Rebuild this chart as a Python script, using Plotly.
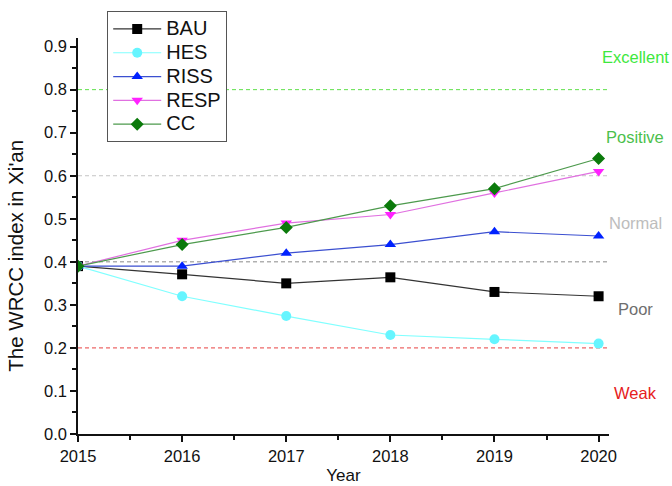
import plotly.graph_objects as go

years = [2015, 2016, 2017, 2018, 2019, 2020]
bau = [0.39, 0.371, 0.35, 0.364, 0.33, 0.32]
hes = [0.39, 0.32, 0.274, 0.23, 0.22, 0.21]
riss = [0.39, 0.39, 0.42, 0.44, 0.47, 0.46]
resp = [0.39, 0.45, 0.49, 0.51, 0.56, 0.61]
cc = [0.39, 0.44, 0.48, 0.53, 0.57, 0.64]

level_values = [0.8, 0.6, 0.4, 0.2]
level_colors = ["#5fe04a", "#c4c4c4", "#8a8a8a", "#e84040"]

grade_names = ["Excellent", "Positive", "Normal", "Poor", "Weak"]
grade_pos = [0.875, 0.69, 0.49, 0.29, 0.095]
grade_colors = ["#3ee83e", "#4cbf4c", "#bdbdbd", "#6e6e6e", "#e62020"]

series = [
    ("BAU", bau, "#333333", "#000000", "square"),
    ("HES", hes, "#80ffff", "#66f5ff", "circle"),
    ("RISS", riss, "#3b4fd0", "#0022ff", "triangle-up"),
    ("RESP", resp, "#e070e0", "#ff22ff", "triangle-down"),
    ("CC", cc, "#4d9a4d", "#0b7a0b", "diamond"),
]

fig = go.Figure()
for name, vals, lc, mc, sym in series:
    fig.add_trace(go.Scatter(
        x=years, y=vals, name="<span style='font-size:20px'>%s</span>" % name,
        mode="lines+markers",
        line=dict(color=lc, width=1.2),
        marker=dict(symbol=sym, size=10, color=mc, line=dict(width=0)),
    ))

shapes = []
for v, c in zip(level_values, level_colors):
    shapes.append(dict(type="line", xref="paper", x0=0, x1=1, yref="y", y0=v, y1=v,
                       line=dict(color=c, width=1, dash="4px,3px"), layer="below"))

annotations = []
for name, p, c in zip(grade_names, grade_pos, grade_colors):
    annotations.append(dict(text=name, xref="paper", x=1.049, yref="y", y=p,
                            xanchor="center", yanchor="middle", showarrow=False,
                            font=dict(size=16.5, color=c)))

# y-axis title, set slightly below the axis centre
annotations.append(dict(text="The WRCC index in Xi'an", xref="paper", yref="paper",
                        x=-0.117, y=0.45, xanchor="center", yanchor="middle",
                        textangle=-90, showarrow=False, font=dict(size=20.5, color="#111111")))

fig.update_layout(
    width=672, height=486,
    margin=dict(l=78, r=63, t=38, b=52, autoexpand=False),
    plot_bgcolor="white", paper_bgcolor="white",
    font=dict(family="Liberation Sans, Arial, sans-serif", color="#111111"),
    shapes=shapes, annotations=annotations,
    showlegend=True,
    legend=dict(x=0.055, y=1.068, xanchor="left", yanchor="top",
                bordercolor="#555555", borderwidth=1, bgcolor="white",
                font=dict(size=16, color="#111111"), tracegroupgap=0,
                itemwidth=48),
    xaxis=dict(range=[2015, 2020.1], tickvals=years, ticktext=[str(y) for y in years],
               showline=True, linecolor="#111111", linewidth=1.5,
               ticks="outside", ticklen=6, tickwidth=1.5, tickcolor="#111111",
               showgrid=False, zeroline=False, automargin=False,
               minor=dict(tickvals=[2015.5, 2016.5, 2017.5, 2018.5, 2019.5],
                          ticklen=4, tickwidth=1.5, tickcolor="#111111", ticks="outside"),
               tickfont=dict(size=16.5), title=dict(text="Year", font=dict(size=17), standoff=6)),
    yaxis=dict(range=[0, 0.92], dtick=0.1, tickformat=".1f",
               showline=True, linecolor="#111111", linewidth=1.5,
               ticks="outside", ticklen=6, tickwidth=1.5, tickcolor="#111111",
               showgrid=False, zeroline=False, automargin=False,
               minor=dict(dtick=0.05, ticklen=4, tickwidth=1.5, tickcolor="#111111", ticks="outside"),
               tickfont=dict(size=16.5)),
)

fig.write_html("out.html")
